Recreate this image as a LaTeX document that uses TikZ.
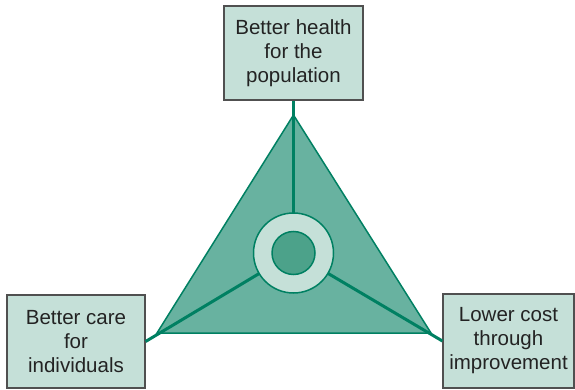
\documentclass[tikz,border=0pt]{standalone}
\usepackage{fontspec}
\setmainfont{Liberation Sans}
\definecolor{trifill}{RGB}{104,178,160}
\definecolor{greenline}{RGB}{0,128,98}
\definecolor{lightfill}{RGB}{197,224,216}
\definecolor{innerfill}{RGB}{76,162,138}
\definecolor{boxborder}{RGB}{80,80,80}
\definecolor{textgray}{RGB}{35,35,35}
\tikzset{
  goalbox/.style={draw=boxborder, line width=1.2pt, fill=lightfill, align=center,
    font=\fontsize{20.5}{24}\selectfont, text=textgray, inner sep=0pt},
  spoke/.style={draw=greenline, line width=3pt},
}
\begin{document}
\begin{tikzpicture}[x=1pt,y=-1pt]
\useasboundingbox (0,0) rectangle (575,390);
\coordinate (c) at (293.5,253);
\coordinate (vt) at (293.5,115);
\coordinate (vl) at (157,333);
\coordinate (vr) at (431,333);
\node[goalbox, minimum width=139pt, minimum height=94pt] (top) at (293.5,53) {Better health\\for the\\population};
\node[goalbox, minimum width=138pt, minimum height=93pt] (left) at (76,341.5) {Better care\\for\\individuals};
\node[goalbox, minimum width=131pt, minimum height=94pt] (right) at (508.5,341) {Lower cost\\through\\improvement};
\filldraw[fill=trifill, draw=greenline, line width=1.5pt, line join=miter] (vt) -- (vl) -- (vr) -- cycle;
\draw[spoke] (c) -- (top.south);
\draw[spoke] (c) -- (left.east);
\draw[spoke] (c) -- (right.west);
\node[circle, draw=greenline, line width=1.5pt, fill=lightfill, minimum size=80pt, inner sep=0pt] (ring) at (c) {};
\node[circle, draw=greenline, line width=1.5pt, fill=innerfill, minimum size=43pt, inner sep=0pt] (core) at (c) {};
\end{tikzpicture}
\end{document}
